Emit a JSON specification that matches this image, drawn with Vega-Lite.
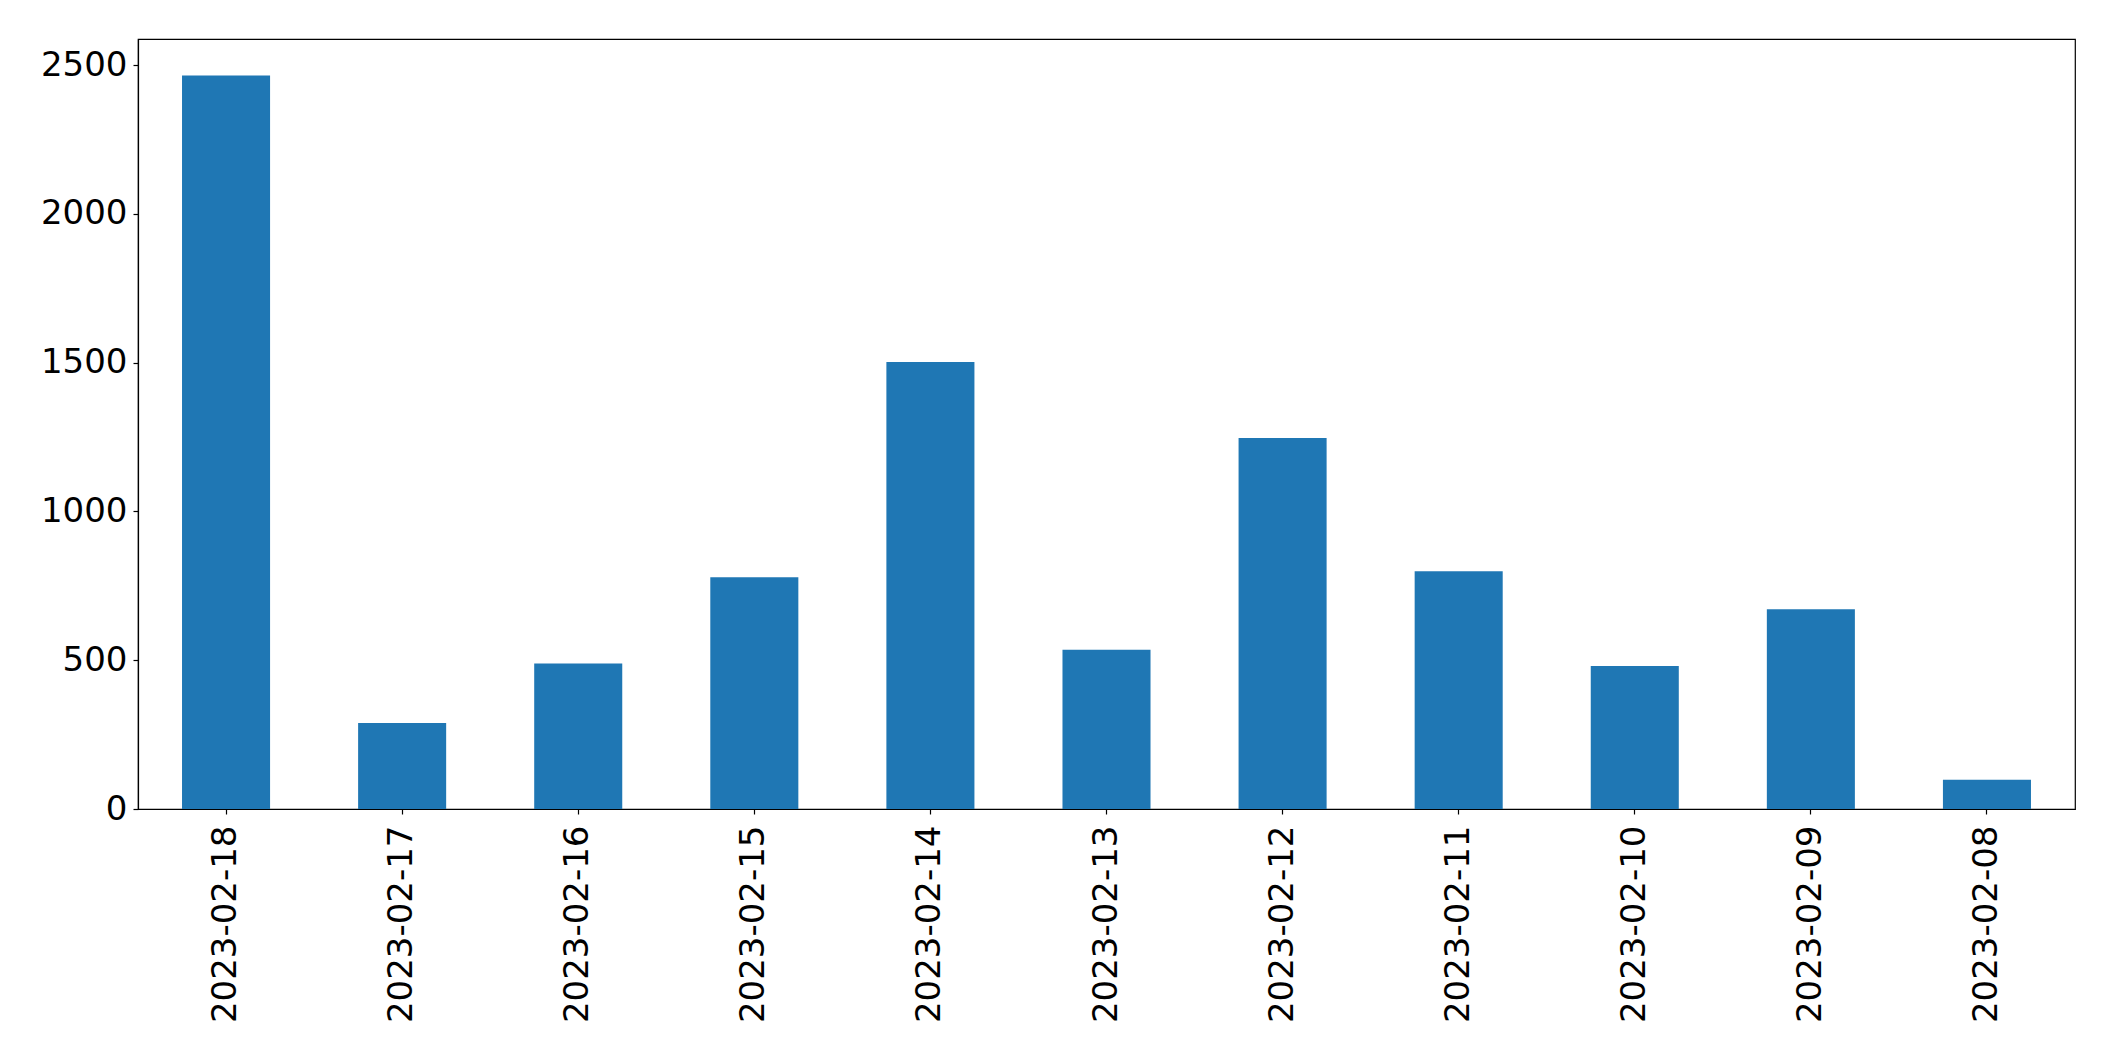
{
  "$schema": "https://vega.github.io/schema/vega-lite/v6.json",
  "autosize": {"type": "none"},
  "padding": {"left": 138, "top": 39, "right": 40, "bottom": 252},
  "width": 1937,
  "height": 770,
  "background": "white",
  "config": {
    "font": "DejaVu Sans",
    "view": {"stroke": "black", "strokeWidth": 1.2},
    "axis": {
      "grid": false,
      "domainColor": "black",
      "domainWidth": 1.2,
      "tickColor": "black",
      "tickWidth": 1.2,
      "tickSize": 5,
      "labelColor": "black",
      "labelFont": "DejaVu Sans",
      "labelFontSize": 34,
      "labelLimit": 400,
      "title": null
    }
  },
  "data": {
    "values": [
      {"date": "2023-02-18", "count": 2465},
      {"date": "2023-02-17", "count": 289},
      {"date": "2023-02-16", "count": 489},
      {"date": "2023-02-15", "count": 779},
      {"date": "2023-02-14", "count": 1502},
      {"date": "2023-02-13", "count": 535},
      {"date": "2023-02-12", "count": 1247},
      {"date": "2023-02-11", "count": 799},
      {"date": "2023-02-10", "count": 481},
      {"date": "2023-02-09", "count": 671},
      {"date": "2023-02-08", "count": 98}
    ]
  },
  "mark": {"type": "bar", "color": "#1f77b4"},
  "encoding": {
    "x": {
      "field": "date",
      "type": "nominal",
      "sort": null,
      "scale": {"paddingInner": 0.5, "paddingOuter": 0.25},
      "axis": {"labelAngle": -90, "labelPadding": 11, "labelLimit": 400, "title": null}
    },
    "y": {
      "field": "count",
      "type": "quantitative",
      "scale": {"domain": [0, 2588], "nice": false, "zero": true},
      "axis": {"values": [0, 500, 1000, 1500, 2000, 2500], "format": "d", "labelPadding": 6, "title": null}
    }
  }
}
